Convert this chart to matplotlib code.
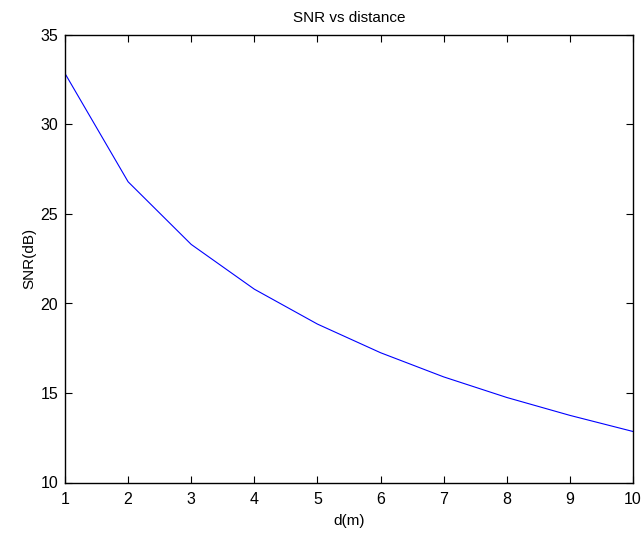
import matplotlib
matplotlib.use("Agg")
import matplotlib.pyplot as plt

distance = [1, 2, 3, 4, 5, 6, 7, 8, 9, 10]
snr_db = [32.85, 26.8, 23.3, 20.8, 18.85, 17.25, 15.9, 14.75, 13.75, 12.85]
x_ticks = [1, 2, 3, 4, 5, 6, 7, 8, 9, 10]
y_ticks = [10, 15, 20, 25, 30, 35]

plt.rcParams['font.family'] = ['Liberation Sans', 'DejaVu Sans']
fig = plt.figure(figsize=(6.44, 5.35), dpi=100)
ax = fig.add_axes([65/644, 1-482.5/535, (633-65)/644, (482.5-35)/535])
ax.plot(distance, snr_db, color='#0000ff', linewidth=0.8)
ax.set_xlim(1, 10)
ax.set_ylim(10, 35)
ax.set_xticks(x_ticks)
ax.set_yticks(y_ticks)
ax.tick_params(direction='in', top=True, right=True, labelsize=11.5, length=5, width=0.8)
ax.tick_params(axis='x', pad=7)
ax.tick_params(axis='y', pad=5)
for s in ax.spines.values():
    s.set_linewidth(1.0)
ax.set_xlabel('d(m)', fontsize=11, labelpad=5)
ax.set_ylabel('SNR(dB)', fontsize=11, labelpad=3)
ax.set_title('SNR vs distance', fontsize=11, pad=9)
fig.savefig('out.png', dpi=100)
